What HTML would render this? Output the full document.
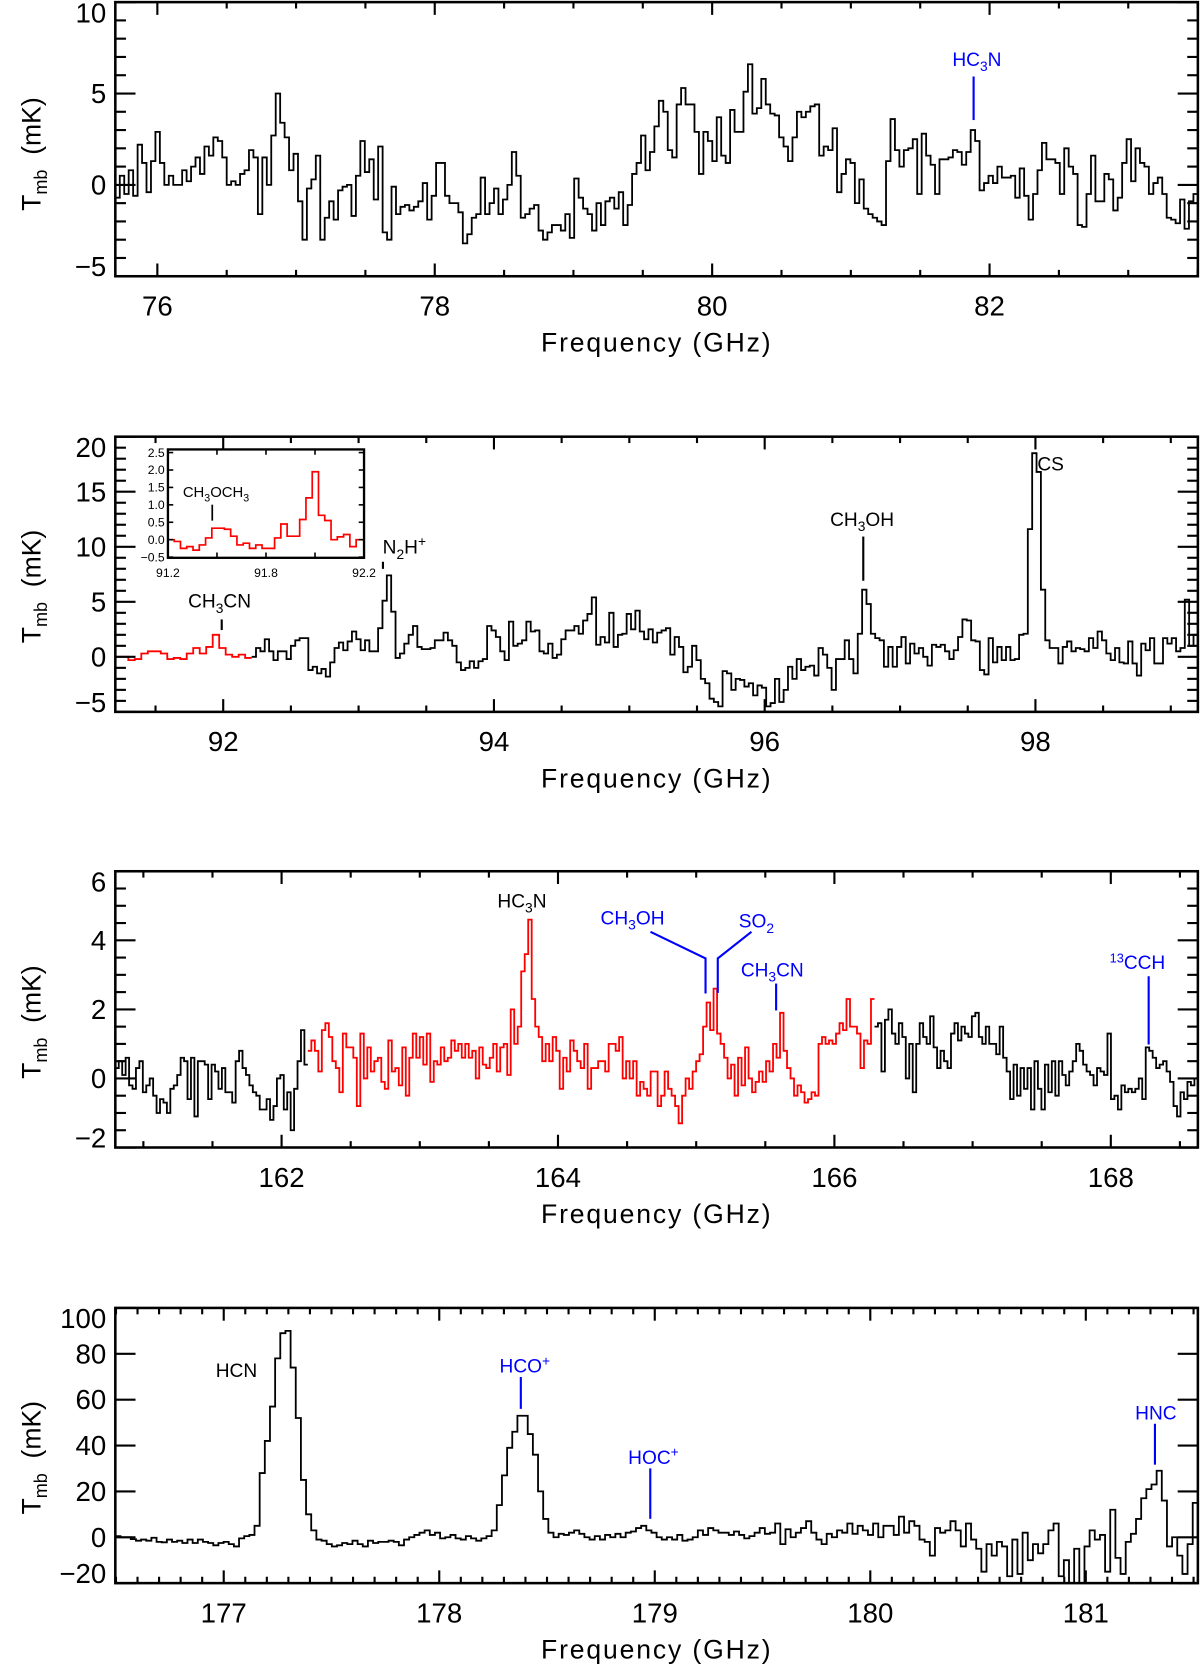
<!DOCTYPE html>
<html>
<head>
<meta charset="utf-8">
<style>
html,body{margin:0;padding:0;background:#fff;}
svg{display:block;}
text{font-family:"Liberation Sans",sans-serif;}
</style>
</head>
<body>
<svg id="fig" width="1200" height="1666" viewBox="0 0 1129 1568" preserveAspectRatio="none" xmlns="http://www.w3.org/2000/svg">
<defs>
<clipPath id="c1"><rect x="108.5" y="2" width="1018.5" height="258"/></clipPath>
<clipPath id="c2"><rect x="108.5" y="411" width="1018.5" height="259"/></clipPath>
<clipPath id="c3"><rect x="108.5" y="820" width="1018.5" height="260"/></clipPath>
<clipPath id="c4"><rect x="108.5" y="1231" width="1018.5" height="259"/></clipPath>
</defs>
<g id="layer"></g>
<g id="annotations">
  <text x="896" y="62" font-size="18" fill="#0000ff">HC<tspan font-size="13" dy="5">3</tspan><tspan dy="-5">N</tspan></text>
  <line x1="916" y1="72" x2="916" y2="113" stroke="#0000ff" stroke-width="2"/>
  <text x="177" y="572" font-size="18" fill="#000">CH<tspan font-size="13" dy="5">3</tspan><tspan dy="-5">CN</tspan></text>
  <line x1="208.6" y1="583" x2="208.6" y2="593" stroke="#000" stroke-width="2"/>
  <text x="360" y="521" font-size="18" fill="#000">N<tspan font-size="13" dy="5">2</tspan><tspan dy="-5">H</tspan><tspan font-size="13" dy="-7">+</tspan></text>
  <line x1="360.3" y1="528.7" x2="360.3" y2="535.4" stroke="#000" stroke-width="2"/>
  <text x="781" y="495" font-size="18" fill="#000">CH<tspan font-size="13" dy="5">3</tspan><tspan dy="-5">OH</tspan></text>
  <line x1="812.2" y1="505" x2="812.2" y2="546.6" stroke="#000" stroke-width="2"/>
  <text x="976" y="443" font-size="18" fill="#000">CS</text>
  <text x="468" y="854" font-size="18" fill="#000">HC<tspan font-size="13" dy="5">3</tspan><tspan dy="-5">N</tspan></text>
  <text x="565" y="870" font-size="18" fill="#0000ff">CH<tspan font-size="13" dy="5">3</tspan><tspan dy="-5">OH</tspan></text>
  <polyline points="612,877 663.8,902 663.8,935" fill="none" stroke="#0000ff" stroke-width="2"/>
  <text x="695" y="873" font-size="18" fill="#0000ff">SO<tspan font-size="13" dy="5">2</tspan></text>
  <polyline points="707,877 675.3,902 675.3,934.6" fill="none" stroke="#0000ff" stroke-width="2"/>
  <text x="697" y="919" font-size="18" fill="#0000ff">CH<tspan font-size="13" dy="5">3</tspan><tspan dy="-5">CN</tspan></text>
  <line x1="730.2" y1="925.7" x2="730.2" y2="951" stroke="#0000ff" stroke-width="2"/>
  <text x="1044" y="912" font-size="18" fill="#0000ff"><tspan font-size="12" dy="-6">13</tspan><tspan dy="6">CCH</tspan></text>
  <line x1="1080.7" y1="918.8" x2="1080.7" y2="983" stroke="#0000ff" stroke-width="2"/>
  <text x="203" y="1296" font-size="18" fill="#000">HCN</text>
  <text x="470" y="1292" font-size="18" fill="#0000ff">HCO<tspan font-size="13" dy="-7">+</tspan></text>
  <line x1="490" y1="1296" x2="490" y2="1326" stroke="#0000ff" stroke-width="2"/>
  <text x="591" y="1378" font-size="18" fill="#0000ff">HOC<tspan font-size="13" dy="-7">+</tspan></text>
  <line x1="611.8" y1="1382" x2="611.8" y2="1429.5" stroke="#0000ff" stroke-width="2"/>
  <text x="1068" y="1336" font-size="18" fill="#0000ff">HNC</text>
  <line x1="1086.6" y1="1340" x2="1086.6" y2="1378.5" stroke="#0000ff" stroke-width="2"/>
</g>
</svg>
<script>
const p1Range = [75.697, 83.502];
const p1Values = [-0.7,0.5,-0.5,0.8,-0.6,2.2,1.2,-0.4,1.3,2.9,1.2,0,0.5,0,0,0.8,0.2,1,1.5,0.6,2.1,1.6,2.6,2.4,1.5,0,0.2,0,0.6,0.8,1.9,1.5,-1.6,1.5,0,2.7,5,3.4,2.6,0.8,1.7,-0.9,-3.0,-0.2,0.3,1.6,-3,-1.8,-0.9,-1.9,-0.3,-0.1,0,-1.7,0.5,2.4,0.7,1.4,-0.8,2.1,-2.6,-3,-0.1,-1.6,-1.2,-1.1,-1.4,-1.2,-0.9,0.1,-1.9,-0.6,1.2,1.2,-0.6,-1,-1,-1.5,-3.2,-2.7,-1.8,-1.6,0.4,-1.6,-1,-0.2,-1.6,-0.8,0,1.8,0.5,-1.8,-1.6,-1.3,-1.1,-2.5,-3,-2.6,-2.2,-2.2,-2.5,-1.6,-2.9,0.35,-0.7,-1.3,-1.6,-2.5,-1,-2.2,-0.9,-0.7,-1.3,-0.4,-2.2,-1.1,0.6,1.2,2.7,0.8,
1.8,3.2,4.6,4.0,1.9,1.5,4.4,5.3,4.4,4.4,2.9,0.6,2.9,2.4,1.3,3.7,1.6,1.2,4.1,2.9,2.9,5.1,6.6,3.9,4.2,5.8,4.4,3.9,3.8,2.6,2.1,1.3,2.6,4,3.7,4.0,4.3,4.4,1.6,2.1,1.9,3.1,-0.4,0.6,1.4,1.2,-1.0,0.3,-1.3,-1.6,-1.8,-2.0,-2.2,1.3,3.6,1.9,1.0,1.9,2.0,2.5,-0.5,2.8,1.6,1.1,-0.5,1.4,1.4,1.5,1.9,1.8,1.1,1.8,3.0,2.4,-0.3,0.1,0.5,0.1,1.0,0.4,0.4,0.5,-0.7,0.9,-0.6,-1.9,-0.5,0.8,2.3,1.4,1.4,1.2,-0.5,2.0,1.0,0.6,-2.2,-2.3,-0.5,1.6,-0.9,-0.9,0.6,0.3,-1.4,-0.7,1.2,2.5,0.2,2.0,1.2,1.0,-0.5,0.1,0.4,-0.5,-1.8,-1.9,-2.1,-0.8,-2.4,-0.9,-0.5];

const p2RedRange = [91.203, 92.21];
const p2RedValues = [0,0,-0.3,-0.2,0.3,0.5,0.5,0.3,-0.2,-0.1,-0.2,0.3,0.8,0.3,0.9,2.0,0.8,0.2,0,0.2,-0.1];
const p2BlackRange = [92.21, 99.20];
const p2BlackValues = [0,0.8,0.5,1.6,0.5,-0.3,0.5,0.5,-0.2,1.0,1.5,1.7,1.7,-1.2,-0.9,-1.5,-1.1,-1.8,-0.5,0.8,1.3,0.6,1.4,2.3,1.6,0.6,1.5,0.5,0.5,2.6,5.1,7.4,4.1,-0.1,0.3,1.2,2.0,2.8,0.9,0.7,0.7,0.8,1.5,1.5,2.2,1.5,1.0,-0.5,-1.2,-1.0,-0.4,-1.0,-0.4,-0.2,2.8,2.4,1.8,0.5,-0.3,3.2,1.0,1.2,1.5,3.2,2.3,2.4,0.5,0.3,1.2,-0.1,0.2,1.6,2.4,2.4,2.8,2.1,3.3,3.9,5.4,1.1,1.8,1.3,4,0.9,2.0,2.1,3.9,2.5,4.2,2.3,1.6,2.5,1.3,2.2,2.4,
2.6,0.2,1.8,0.9,-1.4,-0.9,1.0,-0.3,-2,-2.4,-3.8,-4.1,-4.5,-1.3,-1.5,-3,-2,-2.1,-2.7,-2.4,-3.5,-2.6,-2.8,-4.5,-4.2,-2,-4.1,-3,-0.9,-2,-0.2,-1.2,-0.9,-0.8,-1.7,0.8,0.2,-1,-3,-0.2,-0.2,1.5,-0.2,-1.5,2.1,6.1,4.8,2.1,1.7,1.5,-0.9,0.9,-0.9,0.9,1.8,-0.6,1.2,0.3,0.8,0,-0.8,1.1,0.9,1.1,0.5,-0.2,0.6,1.8,3.4,3.3,1.5,1.4,-1.2,-1.6,1.7,-0.5,0.9,-0.3,0.9,-0.3,-0.2,2,2.1,11.6,18.5,16.8,6.1,1.5,0.8,0.8,-0.6,0.9,1.4,0.5,0.8,0.7,0.5,1.7,0.8,2.3,1.5,0.3,-0.3,0.8,-0.5,-0.6,1.4,-0.6,-1.7,1.2,0.6,1.7,-0.6,-0.6,1.7,1.2,1.7,0.5,0.8,5.2,1.0,2.0];

const insetRange = [91.2, 92.39];
const insetValues = [0,-0.05,-0.25,-0.2,-0.3,-0.15,0.05,0.33,0.33,0.3,0.1,-0.15,-0.1,-0.25,-0.15,-0.25,-0.25,0.05,0.45,0.1,0.1,0.58,1.2,1.95,0.7,0.55,0,0.08,0.15,-0.2,0];
const insetXTicks = [91.2, 91.8, 92.4];
const insetXLabels = ["91.2", "91.8", "92.2"];
const insetYTicks = [-0.5, 0, 0.5, 1, 1.5, 2, 2.5];
const insetYLabels = ["\u22120.5","0.0","0.5","1.0","1.5","2.0","2.5"];

const p3LeftRange = [160.797, 162.19];
const p3LeftValues = [0.3,0.5,0.1,0.6,-0.2,-0.3,0.3,0.5,-0.4,-0.2,0.0,-0.5,-1.0,-0.6,-0.7,-1.0,-0.3,-0.2,0.1,0.6,0.5,-0.6,0.6,-1.1,0.5,0.5,0.4,-0.6,0.4,0.2,-0.3,0.3,-0.4,-0.4,-0.7,0.5,0.8,0.3,0.1,-0.2,-0.4,-0.5,-0.9,-0.9,-0.6,-1.2,-0.8,0.0,0.1,-0.9,-0.4,-1.5,-0.3,0.5,1.4,0.4];
const p3RedRange = [162.19, 166.29];
const p3RedValues = [0.8,1.1,0.8,0.2,1.4,1.6,1.2,0.5,0.3,-0.4,1.3,0.9,0.9,0.6,-0.8,1.3,0.0,0.9,0.2,0.5,0.6,-0.1,-0.3,1.1,0.2,0.3,-0.2,0.9,-0.5,0.6,1.3,0.6,1.2,0.4,1.3,-0.1,0.5,0.4,0.9,0.5,0.6,1.1,0.8,1.0,0.6,1.0,0.6,0.8,0.0,0.9,0.4,0.3,0.6,1.0,0.2,0.9,1.0,0.1,2.0,1.0,1.5,3.1,3.6,4.6,2.3,1.5,1.2,0.5,1.0,0.5,1.2,0.8,-0.3,0.6,0.2,1.1,0.8,0.5,0.3,1.0,-0.3,0.3,0.3,0.5,0.5,0.2,1.0,1.0,0.8,1.2,0.0,0.5,0.0,0.5,-0.5,-0.1,-0.3,-0.5,0.2,0.2,-0.8,
-0.5,0.2,-0.3,-0.5,-0.8,-1.3,-0.5,0.0,-0.3,0.2,0.5,0.7,1.5,2.2,1.4,2.6,1.3,1.0,0.6,0.0,0.4,-0.5,0.6,-0.2,0.9,0.0,-0.4,-0.1,0.2,-0.1,0.5,0.2,1.0,0.6,1.9,0.8,0.3,0.0,-0.5,-0.2,-0.4,-0.7,-0.6,-0.4,-0.5,1.0,1.2,1.0,1.1,1.0,1.3,1.6,1.4,2.3,1.5,1.5,1.3,0.3,1.1,1.0,2.3];
const p3RightRange = [166.29, 168.63];
const p3RightValues = [1.5,1.6,0.2,1.7,2.0,1.3,1.0,1.6,1.2,0.0,1.0,-0.4,1.0,1.6,1.2,1.0,1.8,0.9,0.3,0.8,0.5,0.3,1.3,1.6,1.1,1.5,1.3,1.2,1.8,1.9,1.2,1.0,1.5,1.0,1.0,0.7,1.5,0.6,0.2,-0.6,0.4,-0.5,0.3,-0.3,0.3,-0.9,0.5,-0.3,-0.9,0.4,-0.4,0.5,-0.5,0.5,0.1,-0.2,0.2,0.5,1.0,0.8,0.4,0.2,0.1,-0.2,0.3,0.2,0.1,1.3,-0.6,-0.5,-0.9,-0.2,-0.4,-0.3,-0.4,-0.3,0.0,-0.6,0.9,0.8,0.6,0.3,0.4,0.5,0.2,-0.1,-0.8,-1.1,-0.4,-0.6,-0.1,-0.2,0.0];

const p4Range = [176.497, 181.52];
const p4Values = [0.5,0,0,-0.8,-1.5,-1,-1.5,-0.2,-2,-2.2,-1,-2,-1.5,-2.5,-1,-2.5,-1,-2,-2.5,-3.5,-2.5,-2,-3,-4,-0.5,0.5,1,5,28,42,57,78,89,90,74,52,25,10,3,-1,-1.5,-3,-4,-3.5,-2.5,-3,-1.5,-3,-4,-1.5,-2.5,-2,-2,-1.5,-2,-3.5,-1,0,1,2,3,1,2,-0.5,0,1,-0.5,-1,0.5,-0.5,-1.5,-0.5,0.5,3,14,27,39,46,53,53,45,36,20,8,2,0,1.5,1,2,3,1.5,0,-1,0.5,-1,1,0,1.5,0,2,2.5,4,5,3,
2,0,-1,0,-1,1,-1.5,-1,0,3,1,4,3,2,2,1,2.5,1,-0.5,0.5,2,4,1.5,2,6,-3,3.5,0,2,4,7,2,-1,-3,1.5,0,3,2,6,1.5,5,3,1,6,0,5,5,1,9,2,7,5,-1,-2,-8,4,2,3,7,3,-4,6,-1,-5,-15,-3,-8,-2,-4,-17,-1,-16,2,-10,-3,-7,-3,3,6,-17,-10,-20,-5,-20,-4,3,-1,1,-15,12,-9,-16,-2,1.5,8,17,21,23,29,16,-4,0,-8,-16,-3,15];

const p1XTicks = [76, 78, 80, 82];
const p1YTicks = [-5, 0, 5, 10];
const p2XTicks = [92, 94, 96, 98];
const p2YTicks = [-5, 0, 5, 10, 15, 20];
const p3XTicks = [162, 164, 166, 168];
const p3YTicks = [-2, 0, 2, 4, 6];
const p4XTicks = [177, 178, 179, 180, 181];
const p4YTicks = [-20, 0, 20, 40, 60, 80, 100];

const NS = "http://www.w3.org/2000/svg";
const layer = document.getElementById("layer");
function mk(tag, attrs, parent) {
  const e = document.createElementNS(NS, tag);
  for (const k in attrs) e.setAttribute(k, attrs[k]);
  (parent || layer).appendChild(e);
  return e;
}
const X0 = 108.5, X1 = 1127;

function makePanel(id, xr, yr, top, bottom) {
  const xs = f => X0 + (f - xr[0]) / (xr[1] - xr[0]) * (X1 - X0);
  const ys = v => bottom - (v - yr[0]) / (yr[1] - yr[0]) * (bottom - top);
  return {id, xr, yr, top, bottom, xs, ys};
}

function stepPath(vals, range, P) {
  const w = (range[1] - range[0]) / vals.length;
  let d = "M" + P.xs(range[0]).toFixed(2) + "," + P.ys(vals[0]).toFixed(2);
  for (let i = 0; i < vals.length; i++) {
    if (i > 0) d += "V" + P.ys(vals[i]).toFixed(2);
    d += "H" + P.xs(range[0] + (i + 1) * w).toFixed(2);
  }
  return d;
}

function drawSeries(P, vals, range, color, clip, name) {
  const p = mk("path", {d: stepPath(vals, range, P), fill: "none", stroke: color, "stroke-width": 1.7, "clip-path": "url(#" + clip + ")"});
  
  
}

function drawAxes(P, xMajor, xMinorStep, yMajor, yMinorStep, labelY, titleY, ytitleY) {
  const g = mk("g", {});
  
  
  const xMin = Math.ceil(P.xr[0] / xMinorStep - 1e-6), xMax = Math.floor(P.xr[1] / xMinorStep + 1e-6);
  for (let k = xMin; k <= xMax; k++) {
    const f = k * xMinorStep;
    const major = (P.id === "panel-4") ? Math.abs(f - Math.round(f)) < 1e-6 : Math.abs(f / 2 - Math.round(f / 2)) < 1e-6;
    const L = major ? 12 : 6;
    const x = P.xs(f);
    const t1 = mk("line", {x1: x, x2: x, y1: P.bottom, y2: P.bottom - L, stroke: "#000", "stroke-width": 2}, g);
    
    
    const t2 = mk("line", {x1: x, x2: x, y1: P.top, y2: P.top + L, stroke: "#000", "stroke-width": 2}, g);
    
    
  }
  const yMin = Math.ceil(P.yr[0] / yMinorStep - 1e-6), yMax = Math.floor(P.yr[1] / yMinorStep + 1e-6);
  for (let k = yMin; k <= yMax; k++) {
    const v = k * yMinorStep;
    const major = yMajor.some(t => Math.abs(t - v) < 1e-6);
    const L = major ? 19 : 10;
    const y = P.ys(v);
    const t1 = mk("line", {x1: X0, x2: X0 + L, y1: y, y2: y, stroke: "#000", "stroke-width": 2}, g);
    
    
    const t2 = mk("line", {x1: X1, x2: X1 - L, y1: y, y2: y, stroke: "#000", "stroke-width": 2}, g);
    
    
  }
  const fr = mk("rect", {x: X0, y: P.top, width: X1 - X0, height: P.bottom - P.top, fill: "none", stroke: "#000", "stroke-width": 2.4}, g);
  
  
  xMajor.forEach(f => {
    const t = mk("text", {x: P.xs(f), y: labelY, "font-size": 26, "text-anchor": "middle", fill: "#000"}, g);
    t.textContent = String(f);
    
    
  });
  const yLo = yMajor[0], yHi = yMajor[yMajor.length - 1];
  yMajor.forEach(v => {
    let off = 9;
    if (v === yHi) off = 19;
    if (v === yLo) off = 0;
    const t = mk("text", {x: 100, y: P.ys(v) + off, "font-size": 26, "text-anchor": "end", fill: "#000"}, g);
    t.textContent = v < 0 ? "\u2212" + Math.abs(v) : String(v);
    
    
  });
  const xt = mk("text", {x: 617, y: titleY, "font-size": 25, "text-anchor": "middle", textLength: 216, lengthAdjust: "spacing", fill: "#000"}, g);
  xt.textContent = "Frequency (GHz)";
  
  
  const yt = mk("text", {x: 0, y: 0, "font-size": 25, "text-anchor": "middle", fill: "#000", transform: "translate(38," + ytitleY + ") rotate(-90)"}, g);
  yt.innerHTML = 'T<tspan font-size="17" dy="6">mb</tspan><tspan dy="-6" xml:space="preserve">  (mK)</tspan>';
  
  
}

const P1 = makePanel("panel-1", p1Range, [-5, 10], 2, 260);
drawSeries(P1, p1Values, p1Range, "#000", "c1", "spectrum-75-83ghz");
drawAxes(P1, p1XTicks, 0.5, p1YTicks, 1, 297, 331, 145);

const P2 = makePanel("panel-2", [91.203, 99.20], [-5, 20], 411, 670);
drawSeries(P2, p2RedValues, p2RedRange, "#ff0000", "c2", "spectrum-smoothed-red");
drawSeries(P2, p2BlackValues, p2BlackRange, "#000", "c2", "spectrum-91-99ghz");
drawAxes(P2, p2XTicks, 0.5, p2YTicks, 1, 707, 741, 552);

(function () {
  const ix0 = 158, ix1 = 342.5, iy0 = 423, iy1 = 525;
  const ixs = f => ix0 + (f - 91.2) / (92.4 - 91.2) * (ix1 - ix0);
  const iys = v => iy1 - (v - (-0.52)) / (2.59 - (-0.52)) * (iy1 - iy0);
  const g = mk("g", {});
  
  
  const bg = mk("rect", {x: ix0, y: iy0, width: ix1 - ix0, height: iy1 - iy0, fill: "#fff"}, g);
  
  
  const w = (insetRange[1] - insetRange[0]) / insetValues.length;
  let d = "M" + ixs(insetRange[0]) + "," + iys(insetValues[0]);
  for (let i = 0; i < insetValues.length; i++) {
    if (i > 0) d += "V" + iys(insetValues[i]);
    d += "H" + Math.min(ix1, ixs(insetRange[0] + (i + 1) * w));
  }
  const sp = mk("path", {d: d, fill: "none", stroke: "#ff0000", "stroke-width": 1.6}, g);
  
  
  for (let f = 91.2; f <= 92.41; f += 0.3) {
    const x = ixs(f);
    const a = mk("line", {x1: x, x2: x, y1: iy1, y2: iy1 - 5, stroke: "#000", "stroke-width": 1.5}, g);
    
    
    const b = mk("line", {x1: x, x2: x, y1: iy0, y2: iy0 + 5, stroke: "#000", "stroke-width": 1.5}, g);
    
    
  }
  insetYTicks.forEach((v, i) => {
    const y = iys(v);
    const a = mk("line", {x1: ix0, x2: ix0 + 5, y1: y, y2: y, stroke: "#000", "stroke-width": 1.5}, g);
    
    
    const b = mk("line", {x1: ix1, x2: ix1 - 5, y1: y, y2: y, stroke: "#000", "stroke-width": 1.5}, g);
    
    
    const t = mk("text", {x: ix0 - 3, y: y + 4, "font-size": 11.5, "text-anchor": "end", fill: "#000"}, g);
    t.textContent = insetYLabels[i];
    
    
  });
  insetXTicks.forEach((f, i) => {
    const t = mk("text", {x: ixs(f), y: 543, "font-size": 11.5, "text-anchor": "middle", fill: "#000"}, g);
    t.textContent = insetXLabels[i];
    
    
  });
  const fr = mk("rect", {x: ix0, y: iy0, width: ix1 - ix0, height: iy1 - iy0, fill: "none", stroke: "#000", "stroke-width": 2.2}, g);
  
  
  const lab = mk("text", {x: 172, y: 468, "font-size": 14, fill: "#000"}, g);
  lab.innerHTML = 'CH<tspan font-size="10" dy="4">3</tspan><tspan dy="-4">OCH</tspan><tspan font-size="10" dy="4">3</tspan>';
  
  
  const mkr = mk("line", {x1: 199.7, x2: 199.7, y1: 475, y2: 490, stroke: "#000", "stroke-width": 1.6}, g);
  
  
})();

const P3 = makePanel("panel-3", [160.797, 168.63], [-2, 6], 820, 1080);
drawSeries(P3, p3LeftValues, p3LeftRange, "#000", "c3", "spectrum-161-162ghz");
drawSeries(P3, p3RedValues, p3RedRange, "#ff0000", "c3", "spectrum-162-166ghz-red");
drawSeries(P3, p3RightValues, p3RightRange, "#000", "c3", "spectrum-166-168ghz");
drawAxes(P3, p3XTicks, 0.5, p3YTicks, 0.5, 1117, 1151, 962);

const P4 = makePanel("panel-4", p4Range, [-20, 100], 1231, 1490);
drawSeries(P4, p4Values, p4Range, "#000", "c4", "spectrum-176-181ghz");
drawAxes(P4, p4XTicks, 0.1, p4YTicks, 20, 1527, 1561, 1372);
</script>
</body>
</html>
